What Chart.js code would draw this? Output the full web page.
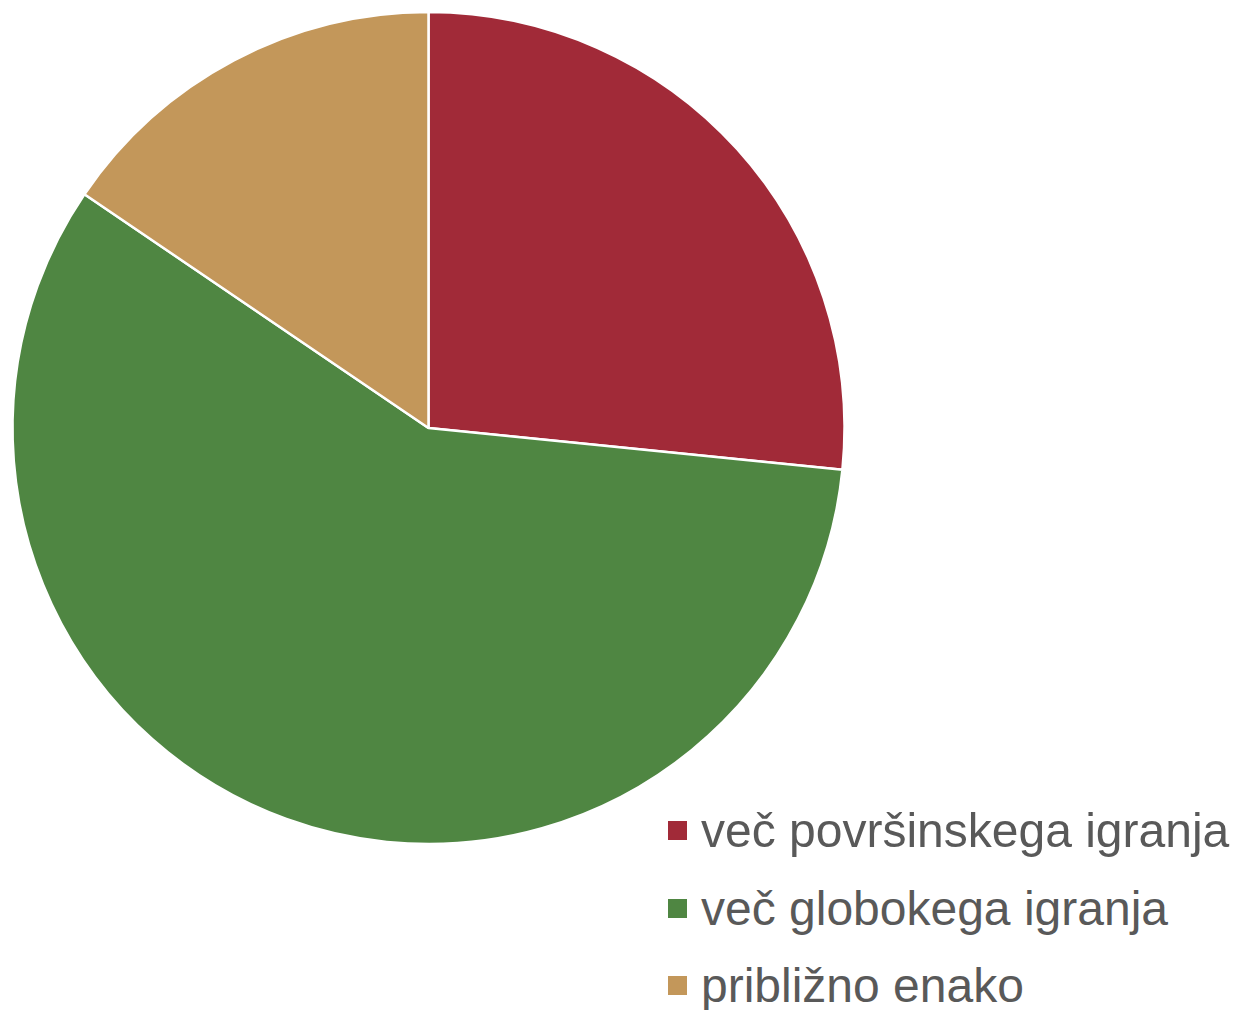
<!DOCTYPE html>
<html>
<head>
<meta charset="utf-8">
<script src="https://cdn.jsdelivr.net/npm/chart.js@4/dist/chart.umd.min.js"></script>
<style>
  html, body { margin: 0; padding: 0; background: #ffffff; width: 1238px; height: 1010px; overflow: hidden; }
  #wrap { position: absolute; left: 0; top: 0; width: 857px; height: 856px; }
  #legend { position: absolute; left: 668px; top: 798px; font-family: "Liberation Sans", Arial, sans-serif; font-size: 48px; color: #595959; }
  .item { position: relative; height: 77.5px; white-space: nowrap; }
  .sw { position: absolute; left: 0; top: 23px; width: 19px; height: 19px; }
  .lbl { position: absolute; left: 33px; top: 0; line-height: 66px; }
</style>
</head>
<body>
<div id="wrap"><canvas id="c"></canvas></div>
<div id="legend"></div>
<script>
const categories = ["več površinskega igranja", "več globokega igranja", "približno enako"];
const values = [26.6, 57.9, 15.5];
const colors = ["#A12A38", "#4F8642", "#C3975A"];

new Chart(document.getElementById('c'), {
  type: 'pie',
  data: {
    labels: categories,
    datasets: [{
      data: values,
      backgroundColor: colors,
      borderColor: '#ffffff',
      borderWidth: 2.5
    }]
  },
  options: {
    responsive: true,
    maintainAspectRatio: false,
    animation: false,
    radius: 416,
    layout: { padding: 0 },
    plugins: { legend: { display: false }, tooltip: { enabled: false } }
  }
});

const lg = document.getElementById('legend');
categories.forEach((name, i) => {
  const it = document.createElement('div');
  it.className = 'item';
  const sw = document.createElement('div');
  sw.className = 'sw';
  sw.style.background = colors[i];
  const lb = document.createElement('div');
  lb.className = 'lbl';
  lb.textContent = name;
  it.appendChild(sw);
  it.appendChild(lb);
  lg.appendChild(it);
});
</script>
</body>
</html>
